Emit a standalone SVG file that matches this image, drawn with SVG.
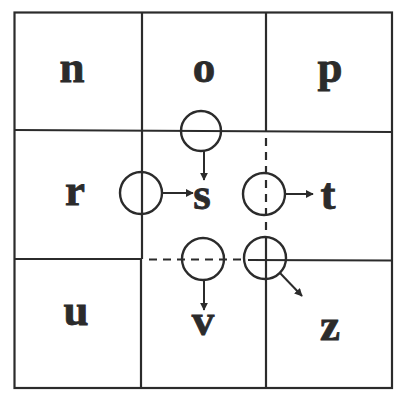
<svg xmlns="http://www.w3.org/2000/svg" width="397" height="396" viewBox="0 0 397 396">
<style>
.ln{stroke:#2b2b2b;stroke-width:2.2;fill:none}
.dash{stroke:#2b2b2b;stroke-width:2.2;fill:none;stroke-dasharray:8 6}
.ring{stroke:#2b2b2b;stroke-width:2.4;fill:none}
.lbl{font-family:"Liberation Serif","Times New Roman",serif;font-weight:bold;font-size:45px;fill:#2b2b2b;stroke:#2b2b2b;stroke-width:0.8;text-anchor:middle}
.arr{stroke:#2b2b2b;stroke-width:2;fill:none;marker-end:url(#ah)}
</style>
<defs>
<marker id="ah" viewBox="0 0 10 10" refX="9" refY="5" markerWidth="4" markerHeight="4" orient="auto" markerUnits="strokeWidth">
<path d="M0,0 L10,5 L0,10 z" fill="#2b2b2b"/>
</marker>
</defs>
<rect width="397" height="396" fill="#ffffff"/>
<g id="grid">
<rect class="ln" x="14.5" y="12.5" width="377.5" height="375.5"/>
<line class="ln" x1="142" y1="12.5" x2="142" y2="259"/>
<line class="ln" x1="141" y1="259" x2="141" y2="388"/>
<line class="ln" x1="266" y1="12.5" x2="266" y2="131"/>
<line class="dash" x1="266" y1="138" x2="266" y2="238"/>
<line class="ln" x1="266" y1="238" x2="266" y2="388"/>
<line class="ln" x1="14.5" y1="130" x2="392" y2="132"/>
<line class="ln" x1="14.5" y1="259" x2="142" y2="259"/>
<line class="dash" x1="149" y1="259.5" x2="246" y2="259.5"/>
<line class="ln" x1="248" y1="260" x2="392" y2="260.5"/>
</g>
<g id="circles">
<circle id="c-top" class="ring" cx="201" cy="131" r="20"/>
<circle id="c-left" class="ring" cx="141" cy="193" r="21"/>
<circle id="c-right" class="ring" cx="264" cy="194" r="21"/>
<circle id="c-bottom" class="ring" cx="203" cy="259" r="21"/>
<circle id="c-corner" class="ring" cx="265" cy="258" r="21"/>
</g>
<g id="n"><text class="lbl" x="72" y="82">n</text></g>
<g id="o"><text class="lbl" x="204" y="82">o</text></g>
<g id="p"><text class="lbl" x="330" y="82">p</text></g>
<g id="r"><text class="lbl" x="75" y="205">r</text></g>
<g id="s"><text class="lbl" x="202" y="209">s</text></g>
<g id="t"><text class="lbl" x="328" y="209">t</text></g>
<g id="u"><text class="lbl" x="76" y="325">u</text></g>
<g id="v"><text class="lbl" x="203" y="335">v</text></g>
<g id="z"><text class="lbl" x="330" y="340">z</text></g>
<g id="connectors">
<line class="arr" x1="204" y1="151" x2="204" y2="180"/>
<line class="arr" x1="162" y1="193" x2="193" y2="193"/>
<line class="arr" x1="285" y1="194" x2="313" y2="194"/>
<line class="arr" x1="204" y1="280" x2="204" y2="310"/>
<line class="arr" x1="280" y1="273" x2="302" y2="296"/>
</g>
</svg>
